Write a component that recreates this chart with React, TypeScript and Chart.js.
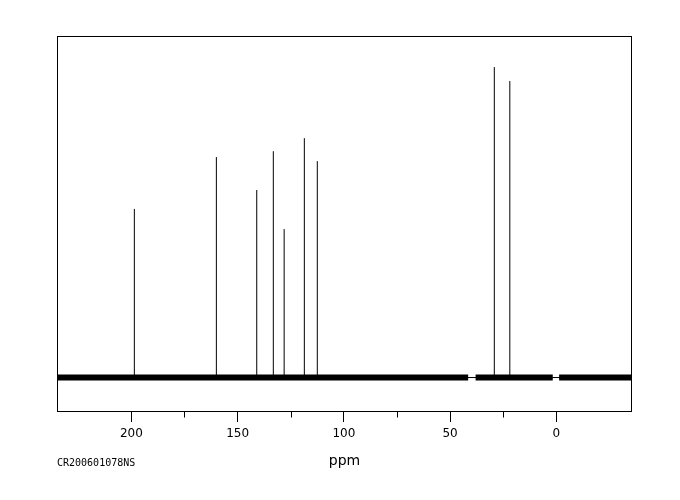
import React, { useEffect, useRef } from 'react';
import { Chart, registerables } from 'chart.js';

Chart.register(...registerables);

// Chemical shifts (ppm) and relative intensities of the peaks
const peakShifts = [198.6, 160.0, 141.0, 133.2, 128.1, 118.6, 112.5, 29.2, 21.9];
const peakIntensities = [54.3, 71.0, 60.4, 72.9, 47.8, 77.1, 69.7, 100, 95.5];
// Baseline noise stretches (from ppm, to ppm)
const noiseStarts = [235.0, 38.0, -1.3];
const noiseEnds = [41.5, 1.7, -35.6];
const axisMin = -35.6;
const axisMax = 235.0;
const intensityMin = -11.1;
const intensityMax = 110.0;
const xTitle = 'ppm';
const sampleId = 'CR200601078NS';

const frame = {
  id: 'frame',
  afterDraw(chart: any) {
    const { ctx, chartArea } = chart;
    const xs = chart.scales.x;
    ctx.save();
    ctx.strokeStyle = '#000';
    ctx.lineWidth = 1;
    const l = Math.round(chartArea.left) + 0.5;
    const t = Math.round(chartArea.top) + 0.5;
    const r = Math.round(chartArea.right) - 0.5;
    const b = Math.round(chartArea.bottom) - 0.5;
    ctx.strokeRect(l, t, r - l, b - t);
    // minor ticks
    ctx.beginPath();
    xs.ticks.forEach((tk: any) => {
      if (tk.value % 50 !== 0) {
        const px = Math.round(xs.getPixelForValue(tk.value)) + 0.5;
        ctx.moveTo(px, b);
        ctx.lineTo(px, b + 6);
      }
    });
    ctx.stroke();
    ctx.fillStyle = '#000';
    ctx.textBaseline = 'middle';
    ctx.textAlign = 'center';
    ctx.font = '14px "DejaVu Sans"';
    ctx.fillText(xTitle, (chartArea.left + chartArea.right) / 2, 461);
    ctx.textAlign = 'left';
    ctx.font = '10px "DejaVu Sans Mono"';
    ctx.fillText(sampleId, chartArea.left, 463);
    ctx.restore();
  },
};

export default function App() {
  const ref = useRef<HTMLCanvasElement>(null);
  useEffect(() => {
    if (!ref.current) return;
    const peakData: any[] = [];
    peakShifts.forEach((s, i) => {
      peakData.push({ x: s, y: 0 }, { x: s, y: peakIntensities[i] }, { x: s, y: null });
    });
    const noiseData: any[] = [];
    noiseStarts.forEach((s, i) => {
      noiseData.push({ x: s, y: 0 }, { x: noiseEnds[i], y: 0 }, { x: noiseEnds[i], y: null });
    });
    const chart = new Chart(ref.current, {
      type: 'scatter',
      data: {
        datasets: [
          {
            data: [{ x: axisMax, y: 0 }, { x: axisMin, y: 0 }],
            showLine: true,
            borderColor: '#000',
            borderWidth: 1,
            pointRadius: 0,
          },
          {
            data: noiseData,
            showLine: true,
            spanGaps: false,
            borderColor: '#000',
            borderWidth: 6,
            borderCapStyle: 'butt',
            pointRadius: 0,
          },
          {
            data: peakData,
            showLine: true,
            spanGaps: false,
            borderColor: '#000',
            borderWidth: 1,
            borderCapStyle: 'butt',
            pointRadius: 0,
          },
        ],
      },
      options: {
        animation: false,
        responsive: false,
        events: [],
        layout: { padding: { left: 57, right: 48, top: 36, bottom: 0 } },
        plugins: { legend: { display: false }, tooltip: { enabled: false } },
        scales: {
          x: {
            type: 'linear',
            reverse: true,
            min: axisMin,
            max: axisMax,
            border: { display: false },
            afterBuildTicks: (s: any) => {
              s.ticks = s.ticks.filter((t: any) => t.value % 25 === 0 && t.value >= 0 && t.value <= 200);
            },
            afterFit: (s: any) => {
              s.height = 88;
            },
            grid: {
              drawOnChartArea: false,
              drawTicks: true,
              tickLength: 10,
              color: (c: any) => (c.tick && c.tick.value % 50 === 0 ? '#000' : 'rgba(0,0,0,0)'),
            },
            ticks: {
              stepSize: 25,
              autoSkip: false,
              maxRotation: 0,
              padding: 5,
              color: '#000',
              font: { family: '"DejaVu Sans"', size: 12 },
              callback: (v: any) => (Number(v) % 50 === 0 ? String(v) : ''),
            },
          },
          y: {
            display: false,
            min: intensityMin,
            max: intensityMax,
          },
        },
      },
      plugins: [frame],
    } as any);
    return () => chart.destroy();
  }, []);
  return (
    <div style={{ position: 'absolute', left: 0, top: 0, width: 680, height: 500, background: '#fff' }}>
      <canvas ref={ref} width={680} height={500} />
    </div>
  );
}
